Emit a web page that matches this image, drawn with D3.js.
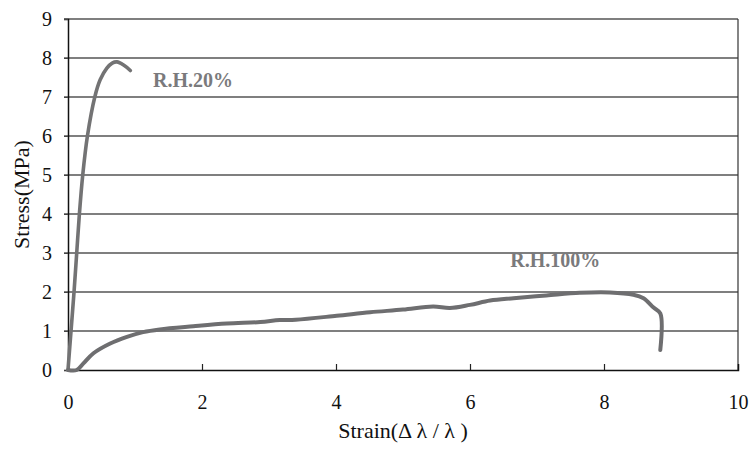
<!DOCTYPE html>
<html>
<head>
<meta charset="utf-8">
<script src="https://cdn.jsdelivr.net/npm/d3@7"></script>
<style>
  body { margin: 0; background: #fff; }
  svg text { font-family: "Liberation Serif", Tinos, "Times New Roman", Times, serif !important; }
</style>
</head>
<body>
<svg id="chart" width="749" height="450"></svg>
<script>
// strain, stress pairs
const rh20 = [
  [0, 0], [0.045, 1], [0.09, 2], [0.13, 3], [0.17, 4], [0.22, 5],
  [0.29, 6], [0.40, 7], [0.48, 7.44], [0.58, 7.74], [0.66, 7.87],
  [0.73, 7.9], [0.83, 7.82], [0.93, 7.68]
];
const rh100 = [
  [0, 0], [0.13, 0], [0.23, 0.17], [0.38, 0.43], [0.63, 0.68], [0.88, 0.85],
  [1.12, 0.97], [1.37, 1.04], [1.87, 1.12], [2.37, 1.19], [2.87, 1.23],
  [3.16, 1.28], [3.4, 1.29], [4.01, 1.39], [4.51, 1.48], [5.0, 1.55],
  [5.45, 1.63], [5.7, 1.59], [6.0, 1.67], [6.3, 1.78], [6.65, 1.84],
  [7.14, 1.91], [7.64, 1.98], [8.09, 1.99], [8.44, 1.93], [8.59, 1.84],
  [8.74, 1.6], [8.84, 1.45], [8.84, 0.51]
];
const xTicks = [0, 2, 4, 6, 8, 10];
const yTicks = [0, 1, 2, 3, 4, 5, 6, 7, 8, 9];
const seriesLabels = [
  { text: 'R.H.20%', x: 1.27, y: 7.25 },
  { text: 'R.H.100%', x: 6.6, y: 2.64 }
];

const margin = { top: 19, right: 11, bottom: 80, left: 68 };
const width = 749, height = 450;
const svg = d3.select('#chart');

const x = d3.scaleLinear().domain([0, 10]).range([margin.left, width - margin.right]);
const y = d3.scaleLinear().domain([0, 9]).range([height - margin.bottom, margin.top]);

// horizontal gridlines (with small outward ticks on the y axis)
svg.append('g')
  .selectAll('line')
  .data(yTicks.filter(d => d > 0))
  .enter().append('line')
  .attr('x1', x(0) - 4)
  .attr('x2', x(10))
  .attr('y1', d => y(d))
  .attr('y2', d => y(d))
  .attr('stroke', '#555')
  .attr('stroke-width', 1.3);

// right border
svg.append('line')
  .attr('x1', x(10)).attr('x2', x(10))
  .attr('y1', y(9)).attr('y2', y(0))
  .attr('stroke', '#333').attr('stroke-width', 1.2);

// axes
const xAxis = d3.axisBottom(x).tickValues(xTicks).tickSize(-6).tickPadding(25).tickFormat(d3.format('d'));
const gx = svg.append('g').attr('transform', `translate(0,${y(0)})`).call(xAxis);
gx.select('.domain').attr('stroke', '#111').attr('stroke-width', 1.5);
gx.selectAll('.tick line').attr('stroke', '#222').attr('stroke-width', 1.2)
  .filter(d => d === 0 || d === 10).remove();
gx.selectAll('text').attr('font-size', 20).attr('fill', '#111');

const yAxis = d3.axisLeft(y).tickValues(yTicks).tickSize(4).tickPadding(12).tickFormat(d3.format('d'));
const gy = svg.append('g').attr('transform', `translate(${x(0)},0)`).call(yAxis);
gy.select('.domain').attr('stroke', '#111').attr('stroke-width', 1.5);
gy.selectAll('.tick line').attr('stroke', '#444');
gy.selectAll('text').attr('font-size', 20).attr('fill', '#111');

// curves
const smooth = d3.line()
  .x(d => x(d[0]))
  .y(d => y(d[1]))
  .curve(d3.curveCatmullRom.alpha(0.5));

svg.append('path')
  .attr('d', smooth(rh20))
  .attr('fill', 'none')
  .attr('stroke', '#737374')
  .attr('stroke-width', 3.6)
  .attr('stroke-linecap', 'round');

svg.append('path')
  .attr('d', smooth(rh100))
  .attr('fill', 'none')
  .attr('stroke', '#6e6e70')
  .attr('stroke-width', 4)
  .attr('stroke-linejoin', 'round')
  .attr('stroke-linecap', 'round');

// series labels
svg.append('g')
  .selectAll('text')
  .data(seriesLabels)
  .enter().append('text')
  .attr('x', d => x(d.x))
  .attr('y', d => y(d.y))
  .attr('font-size', 20)
  .attr('font-weight', 'bold')
  .attr('fill', '#7a7a7c')
  .text(d => d.text);

// axis titles
svg.append('text')
  .attr('x', (x(0) + x(10)) / 2)
  .attr('y', 438)
  .attr('text-anchor', 'middle')
  .attr('font-size', 22)
  .attr('fill', '#111')
  .text('Strain(\u0394 \u03bb / \u03bb )');

svg.append('text')
  .attr('transform', `translate(29,${(y(0) + y(9)) / 2}) rotate(-90)`)
  .attr('text-anchor', 'middle')
  .attr('font-size', 22)
  .attr('fill', '#111')
  .text('Stress(MPa)');
</script>
</body>
</html>
